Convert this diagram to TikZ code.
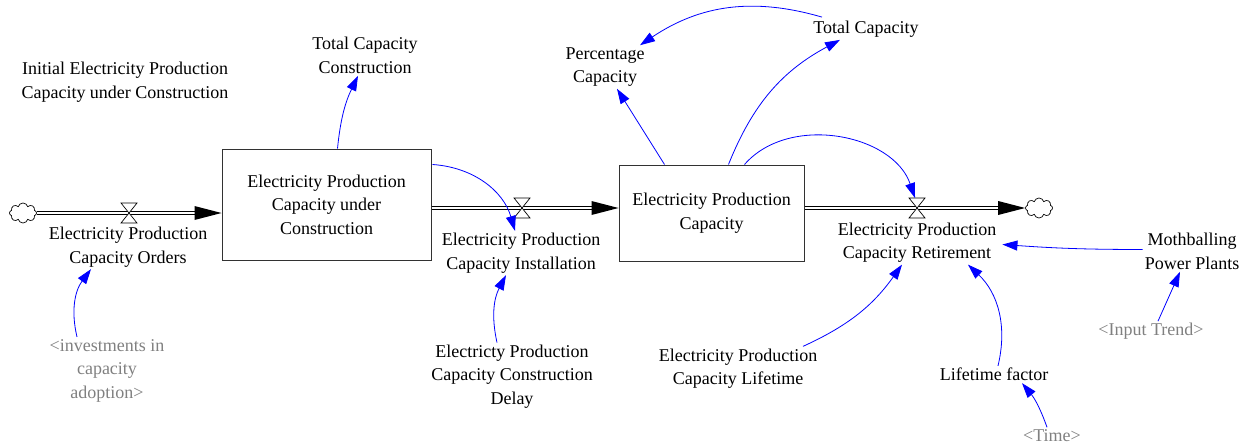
\documentclass[tikz,border=0pt]{standalone}
\usepackage{fontspec}
\setmainfont{Liberation Serif}
\newfontfamily\diafont{Liberation Serif}
\usetikzlibrary{shapes.symbols,arrows.meta,calc}
\definecolor{linkblue}{RGB}{0,0,255}
\definecolor{ghost}{RGB}{128,128,128}
\definecolor{boxgray}{RGB}{50,50,50}
\begin{document}
\begin{tikzpicture}[x=1pt,y=-1pt,
  lbl/.style={align=center,inner sep=2pt,font=\diafont\fontsize{18}{23.5}\selectfont},
  ghostlbl/.style={lbl,text=ghost},
  stockbox/.style={draw=boxgray,line width=1pt,align=center,inner sep=0pt,font=\diafont\fontsize{18}{23.5}\selectfont},
  link/.style={draw=linkblue,line width=0.8pt,-{Triangle[length=15pt,width=10pt]}},
  pipe/.style={draw=black,double=white,line width=1pt,double distance=2.6pt},
  valvestyle/.style={draw=black,fill=white,line width=0.7pt},
  cloudstyle/.style={cloud,cloud puffs=8,cloud ignores aspect,draw,line width=0.7pt,minimum width=27pt,minimum height=20pt,inner sep=0pt},
  headstyle/.style={fill=black}]
\useasboundingbox (0,0) rectangle (1248,444);

% stocks
\node[stockbox,minimum width=209pt,minimum height=111pt] (s1) at (326.5,204.5) {Electricity Production\\Capacity under\\Construction};
\node[stockbox,minimum width=185pt,minimum height=96pt] (s2) at (711.5,213) {Electricity Production\\Capacity};

% clouds
\node[cloudstyle] (src) at (23,213) {};
\node[cloudstyle] (sink) at (1039,208) {};

% valves
\coordinate (v1) at (129,213);
\coordinate (v2) at (522,208);
\coordinate (v3) at (917,208);

% flow 1
\draw[pipe] (src.east) -- ($(s1.west|-v1)+(-22,0)$);
\fill[headstyle] (s1.west|-v1) -- ++(-27,-7) -- ++(0,14) -- cycle;
\draw[valvestyle] ($(v1)+(-8,-10)$) -- ++(16,0) -- ++(-16,20) -- ++(16,0) -- cycle;
% flow 2
\draw[pipe] (s1.east|-v2) -- ($(s2.west|-v2)+(-22,0)$);
\fill[headstyle] (s2.west|-v2) -- ++(-27,-7) -- ++(0,14) -- cycle;
\draw[valvestyle] ($(v2)+(-8,-10)$) -- ++(16,0) -- ++(-16,20) -- ++(16,0) -- cycle;
% flow 3
\draw[pipe] (s2.east|-v3) -- ($(sink.west)+(-22,0)$);
\fill[headstyle] (sink.west) -- ++(-27,-7) -- ++(0,14) -- cycle;
\draw[valvestyle] ($(v3)+(-8,-10)$) -- ++(16,0) -- ++(-16,20) -- ++(16,0) -- cycle;

% labels
\node[lbl] (init) at (125,82) {Initial Electricity Production\\Capacity under Construction};
\node[lbl] (tcc) at (365,55.5) {Total Capacity\\Construction};
\node[lbl] (ord) at (128,247) {Electricity Production\\Capacity Orders};
\node[lbl] (inst) at (521,253) {Electricity Production\\Capacity Installation};
\node[lbl] (delay) at (512,376.5) {Electricty Production\\Capacity Construction\\Delay};
\node[lbl] (pct) at (605,67) {Percentage\\Capacity};
\node[lbl] (tc) at (866,29.5) {Total Capacity};
\node[lbl] (ret) at (917,242.5) {Electricity Production\\Capacity Retirement};
\node[lbl] (mb) at (1192,251.5) {Mothballing\\Power Plants};
\node[ghostlbl] (it) at (1151,331.5) {<Input Trend>};
\node[lbl] (lf) at (994,374.5) {Lifetime factor};
\node[ghostlbl] (tm) at (1052,435.5) {<Time>};
\node[lbl] (cl) at (738,368.5) {Electricity Production\\Capacity Lifetime};
\node[ghostlbl] (inv) at (107,370.5) {<investments in\\capacity\\adoption>};

% links
\draw[link] ($(s1.north)+(11,0)$) to[bend left=10] ($(tcc.south)+(-7,0)$);
\draw[link] ($(s1.north east)+(1,16)$) to[bend left=35] ($(inst.north)+(-6,0)$);
\draw[link] ($(delay.north)+(-15,0)$) to[bend left=20] ($(inst.south)+(-15,0)$);
\draw[link] ($(inv.north)+(-30,0)$) to[bend left=25] ($(ord.south)+(-37,0)$);
\draw[link] ($(s2.north)+(-47,0)$) -- ($(pct.south)+(12,0)$);
\draw[link] ($(s2.north)+(17,0)$) to[bend left=20] ($(tc.south)+(-26,0)$);
\draw[link] ($(tc.north)+(-44,-2)$) to[bend right=25] ($(pct.north)+(35,0)$);
\draw[link] ($(s2.north)+(33,0)$) to[bend left=60] ($(v3)+(-2,-10)$);
\draw[link] ($(mb.west)+(0,-2)$) to[bend left=2] ($(ret.east)+(4,2)$);
\draw[link] ($(it.north)+(7,0)$) -- ($(mb.south)+(-12,0)$);
\draw[link] ($(lf.north)+(4,0)$) to[bend right=30] ($(ret.south)+(51,0)$);
\draw[link] ($(cl.north)+(65,0)$) to[bend right=15] ($(ret.south)+(-15,0)$);
\draw[link] ($(tm.north)+(-5,0)$) to[bend right=10] ($(lf.south)+(28,0)$);
\end{tikzpicture}
\end{document}
